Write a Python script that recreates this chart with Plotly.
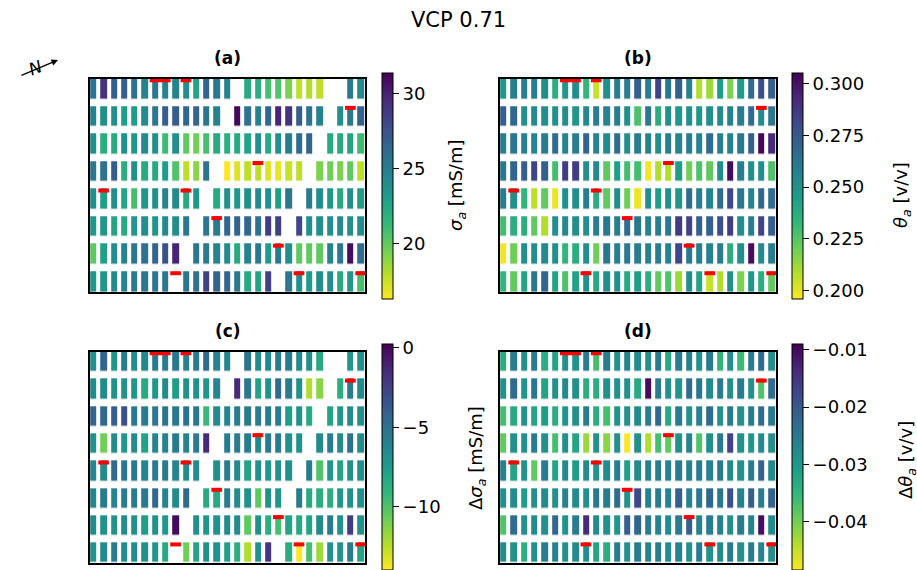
import plotly.graph_objects as go

# ---------------- data ----------------
cols = list(range(1, 28))
rows = list(range(1, 9))
N = None

# (a) apparent conductivity sigma_a [mS/m]
sigma_a = [
    [25.7, 29.1, 26.9, 26.9, 25.7, 24.6, 25.4, 24.6, 24.6, 23.9, 22.6, 26.6, 25.4, 24.6, N, 22.3, 22.0, 20.8, 20.5, 19.3, 17.8, 18.1, 17.8, N, N, 25.1, 24.2],
    [24.6, 23.9, 23.9, 23.1, 23.1, 24.2, 25.4, 26.9, 26.9, 26.4, 26.4, 25.4, 24.6, N, 31.1, 25.7, 24.6, 26.4, 29.9, 29.1, 26.9, 25.7, 24.6, N, 23.9, 25.4, 26.6],
    [23.9, 22.0, 22.3, 23.9, 23.5, 24.2, 23.9, 21.1, 23.9, 20.1, 19.6, 20.8, 22.3, 22.0, 22.3, 22.6, 23.9, 22.3, 23.9, 25.1, 26.1, 26.6, N, 22.3, 22.3, 22.6, 21.1],
    [25.4, 25.7, 26.9, 22.0, 23.9, 22.3, 22.3, 23.1, 20.5, 17.8, 19.0, 25.7, N, 16.3, 17.0, 17.8, 17.8, 17.0, 16.8, 17.5, 17.8, N, 19.3, 19.6, 19.3, 20.1, 17.8],
    [23.9, 22.9, 23.9, 22.6, 20.8, 23.5, 23.9, 24.6, 24.2, 22.3, 23.5, N, 22.3, 23.9, 23.5, 23.9, 24.2, 23.9, 23.1, 25.4, N, 25.1, 23.9, 23.5, 22.3, 23.9, 23.1],
    [23.5, 23.5, 22.6, 22.3, 23.5, 23.9, 23.5, 24.2, 23.9, 25.4, N, 25.4, 25.1, 26.4, 26.6, 26.4, 25.7, 28.7, 28.4, N, 28.1, 23.9, 23.9, 23.9, 24.2, 23.9, 23.9],
    [20.1, 22.9, 23.9, 24.6, 25.4, 25.7, 26.6, 27.6, 29.9, N, 25.4, 25.1, 24.6, 24.2, 22.3, 24.6, 25.4, 23.1, 25.1, 23.9, 20.1, 20.1, 20.1, 24.6, 25.4, 30.9, 26.1],
    [23.5, 23.5, 24.2, 24.6, 25.1, 25.4, 25.4, 25.4, N, 25.4, 25.7, 28.4, 26.6, 26.4, 25.4, 22.3, 22.6, 28.4, N, 25.4, 23.9, 23.1, 23.9, 23.9, 22.3, 23.5, 20.8],
]

# (b) water content theta_a [v/v]
theta_a = [
    [0.248, 0.259, 0.259, 0.259, 0.251, 0.237, 0.248, 0.251, 0.234, 0.205, 0.251, 0.259, 0.259, 0.272, 0.259, 0.283, 0.261, 0.272, 0.256, 0.209, 0.212, 0.245, 0.218, 0.245, 0.267, 0.278, 0.272],
    [0.272, 0.269, 0.251, 0.253, 0.251, 0.251, 0.251, 0.248, 0.254, 0.259, 0.256, 0.259, 0.251, 0.227, 0.261, 0.237, 0.251, 0.248, 0.251, 0.248, 0.251, 0.253, 0.256, 0.259, 0.267, 0.253, 0.261],
    [0.259, 0.261, 0.259, 0.256, 0.259, 0.267, 0.256, 0.259, 0.270, 0.256, 0.253, 0.267, 0.251, 0.259, 0.256, 0.251, 0.259, 0.256, 0.259, 0.256, 0.267, 0.256, 0.256, 0.261, 0.272, 0.303, 0.292],
    [0.261, 0.270, 0.272, 0.283, 0.272, 0.229, 0.285, 0.285, 0.251, 0.253, 0.223, 0.245, 0.229, 0.229, 0.198, 0.209, 0.209, 0.245, 0.220, 0.227, 0.223, 0.251, 0.302, 0.259, 0.251, 0.251, 0.227],
    [0.259, 0.251, 0.234, 0.207, 0.223, 0.199, 0.251, 0.251, 0.259, 0.237, 0.223, 0.251, 0.220, 0.199, 0.251, 0.245, 0.251, 0.248, 0.267, 0.259, 0.256, 0.267, 0.281, 0.261, 0.256, 0.269, 0.267],
    [0.229, 0.237, 0.237, 0.223, 0.209, 0.251, 0.253, 0.251, 0.251, 0.259, 0.261, 0.259, 0.267, 0.261, 0.256, 0.259, 0.261, 0.285, 0.283, 0.272, 0.272, 0.278, 0.285, 0.251, 0.259, 0.283, 0.272],
    [0.198, 0.220, 0.251, 0.251, 0.253, 0.251, 0.234, 0.237, 0.251, 0.220, 0.261, 0.259, 0.261, 0.259, 0.256, 0.259, 0.256, 0.281, 0.261, 0.259, 0.256, 0.259, 0.237, 0.251, 0.301, 0.253, 0.259],
    [0.234, 0.223, 0.242, 0.261, 0.270, 0.242, 0.227, 0.242, 0.251, 0.240, 0.251, 0.251, 0.240, 0.245, 0.237, 0.223, 0.227, 0.212, 0.251, 0.242, 0.205, 0.209, 0.251, 0.218, 0.248, 0.237, 0.223],
]

# (c) change in sigma_a [mS/m]
dsigma_a = [
    [-6.9, -4.3, -7.2, -5.7, -6.6, -6.4, -5.7, -5.7, -5.5, -6.2, -5.7, -4.7, -6.2, -6.2, N, -5.2, -6.6, -6.4, -5.7, -5.7, -6.6, -6.9, -8.3, N, N, -7.2, -6.9],
    [-6.6, -6.6, -6.9, -6.9, -7.2, -8.3, -7.2, -6.6, -7.6, -6.9, -6.9, -7.2, -6.2, N, -1.5, -5.5, -7.9, -6.9, -4.7, -5.7, -6.9, -12.3, -11.4, N, -8.6, -5.7, -6.6],
    [-4.3, -4.5, -4.0, -3.3, -5.5, -5.7, -5.5, -5.2, -5.5, -5.2, -5.5, -9.4, -6.6, -6.2, -5.7, -5.7, -5.7, -5.7, -5.7, -7.6, -6.9, -8.3, N, -7.9, -7.2, -6.6, -6.9],
    [-6.9, -10.9, -6.6, -7.2, -6.6, -7.9, -6.2, -6.2, -5.7, -6.2, -5.7, -1.5, N, -5.7, -5.7, -5.7, -6.6, -5.7, -5.7, -6.9, -6.9, N, -6.6, -5.7, -6.6, -5.2, -6.6],
    [-6.2, -6.6, -4.7, -5.5, -5.5, -6.2, -5.7, -5.7, -6.2, -6.6, -6.6, N, -6.9, -5.7, -6.6, -7.9, -6.9, -7.2, -6.9, -6.9, N, -5.7, -10.0, -7.2, -7.9, -6.9, -6.9],
    [-6.2, -5.7, -6.2, -5.7, -5.7, -5.5, -4.5, -6.2, -6.6, -4.7, N, -8.3, -8.3, -5.7, -6.6, -6.9, -10.4, -6.9, -7.2, N, -5.7, -8.3, -8.6, -8.6, -7.2, -6.9, -6.9],
    [-6.6, -6.9, -6.9, -6.6, -6.9, -7.6, -6.9, -7.2, -0.1, N, -6.9, -7.2, -6.9, -6.6, -6.6, -10.4, -6.9, -8.6, -9.7, -8.0, -8.3, -8.0, -6.6, -5.7, -6.9, -2.3, -6.9],
    [-6.9, -6.6, -5.7, -6.6, -6.6, -6.9, -7.2, -8.3, N, -10.9, -8.0, -6.9, -6.9, -7.6, -8.6, -12.3, -6.9, -1.9, N, -8.6, -14.0, -9.7, -11.9, -6.9, -6.9, -5.7, -8.0],
]

# (d) change in theta_a [v/v]
dtheta_a = [
    [-0.0334, -0.0255, -0.0287, -0.0255, -0.0334, -0.0319, -0.0287, -0.0295, -0.0255, -0.0366, -0.0255, -0.0287, -0.0267, -0.0279, -0.0287, -0.0255, -0.0326, -0.0255, -0.0267, -0.0287, -0.0255, -0.0346, -0.0287, -0.0358, -0.0255, -0.0228, -0.0287],
    [-0.0287, -0.0228, -0.0295, -0.0248, -0.0319, -0.0287, -0.0279, -0.0287, -0.0334, -0.0334, -0.0287, -0.0287, -0.0287, -0.0326, -0.0102, -0.0255, -0.0287, -0.0295, -0.0228, -0.0248, -0.0279, -0.0255, -0.0287, -0.0255, -0.0287, -0.0374, -0.0228],
    [-0.0366, -0.0326, -0.0287, -0.0319, -0.0307, -0.0334, -0.0295, -0.0287, -0.0255, -0.0334, -0.0366, -0.0287, -0.0287, -0.0279, -0.0255, -0.0220, -0.0326, -0.0255, -0.0287, -0.0267, -0.0228, -0.0287, -0.0255, -0.0287, -0.0255, -0.0228, -0.0255],
    [-0.0386, -0.0287, -0.0287, -0.0255, -0.0287, -0.0366, -0.0287, -0.0319, -0.0425, -0.0287, -0.0413, -0.0287, -0.0484, -0.0287, -0.0437, -0.0366, -0.0386, -0.0287, -0.0267, -0.0374, -0.0287, -0.0255, -0.0169, -0.0287, -0.0295, -0.0279, -0.0287],
    [-0.0267, -0.0319, -0.0287, -0.0386, -0.0255, -0.0319, -0.0279, -0.0307, -0.0279, -0.0295, -0.0279, -0.0255, -0.0307, -0.0279, -0.0267, -0.0255, -0.0267, -0.0255, -0.0267, -0.0255, -0.0267, -0.0255, -0.0279, -0.0287, -0.0255, -0.0216, -0.0279],
    [-0.0287, -0.0279, -0.0307, -0.0287, -0.0279, -0.0287, -0.0267, -0.0279, -0.0287, -0.0248, -0.0255, -0.0228, -0.0287, -0.0177, -0.0267, -0.0255, -0.0267, -0.0208, -0.0267, -0.0248, -0.0220, -0.0248, -0.0189, -0.0267, -0.0208, -0.0255, -0.0216],
    [-0.0374, -0.0228, -0.0287, -0.0279, -0.0287, -0.0220, -0.0295, -0.0255, -0.0137, -0.0279, -0.0287, -0.0295, -0.0208, -0.0220, -0.0255, -0.0267, -0.0279, -0.0255, -0.0208, -0.0267, -0.0255, -0.0267, -0.0287, -0.0255, -0.0267, -0.0106, -0.0279],
    [-0.0279, -0.0287, -0.0334, -0.0287, -0.0255, -0.0267, -0.0287, -0.0279, -0.0287, -0.0319, -0.0334, -0.0255, -0.0287, -0.0255, -0.0267, -0.0255, -0.0279, -0.0267, -0.0287, -0.0255, -0.0287, -0.0279, -0.0255, -0.0287, -0.0255, -0.0267, -0.0287],
]

# sensor (red marker) positions, 1-based row / column
marker_rows = [1, 1, 1, 2, 4, 5, 5, 6, 7, 8, 8, 8]
marker_cols = [7, 8, 10, 26, 17, 2, 10, 13, 19, 9, 21, 27]

panel_labels = ["(a)", "(b)", "(c)", "(d)"]
cbar_titles = ["<i>σ<sub>a</sub></i> [mS/m]", "<i>θ<sub>a</sub></i> [v/v]",
               "Δ<i>σ<sub>a</sub></i> [mS/m]", "Δ<i>θ<sub>a</sub></i> [v/v]"]
z_ranges = [(16.3, 31.4), (0.196, 0.305), (-14.0, 0.25), (-0.0484, -0.009)]
cbar_tickvals = [[20, 25, 30], [0.2, 0.225, 0.25, 0.275, 0.3],
                 [-10, -5, 0], [-0.04, -0.03, -0.02, -0.01]]
cbar_ticktext = [["20", "25", "30"], ["0.200", "0.225", "0.250", "0.275", "0.300"],
                 ["−10", "−5", "0"], ["−0.04", "−0.03", "−0.02", "−0.01"]]
title_text = "VCP 0.71"

# ---------------- layout geometry (pixels) ----------------
W, H = 917, 570
FONT = "DejaVu Sans"


def fx(p):
    return p / W


def fy(p):
    return 1 - p / H


boxes = [  # x0, x1, ytop, ybottom
    (90, 365, 79, 292),
    (500, 776, 79, 292),
    (90, 365, 352, 563),
    (500, 776, 352, 563),
]
cbar_pos = [  # x left, y top, y bottom
    (382, 73, 299),
    (792, 73, 299),
    (382, 344, 570),
    (792, 344, 570),
]
cbar_title_pos = [(457, 186), (902, 195), (477, 458), (907, 460)]

datasets = [sigma_a, theta_a, dsigma_a, dtheta_a]

fig = go.Figure()

# red marker segments
mx, my = [], []
for r, c in zip(marker_rows, marker_cols):
    mx += [c - 0.52, c + 0.52, None]
    my += [r - 0.317, r - 0.317, None]

for i, z in enumerate(datasets):
    xa = "x" if i == 0 else f"x{i+1}"
    ya = "y" if i == 0 else f"y{i+1}"
    cx, cy0, cy1 = cbar_pos[i]
    fig.add_trace(go.Heatmap(
        x=cols, y=rows, z=z,
        colorscale="Viridis", reversescale=True,
        zmin=z_ranges[i][0], zmax=z_ranges[i][1],
        xgap=4, ygap=7.5,
        hoverinfo="skip",
        xaxis=xa, yaxis=ya,
        colorbar=dict(
            x=fx(cx), xanchor="left", xpad=0,
            y=fy((cy0 + cy1) / 2), yanchor="middle", ypad=0,
            len=cy1 - cy0, lenmode="pixels",
            thickness=11, thicknessmode="pixels",
            outlinewidth=1, outlinecolor="black",
            tickmode="array", tickvals=cbar_tickvals[i], ticktext=cbar_ticktext[i],
            ticks="outside", ticklen=6, tickwidth=1, tickcolor="black",
            tickfont=dict(family=FONT, size=18, color="black"),
        ),
    ))
    fig.add_trace(go.Scatter(
        x=mx, y=my, mode="lines",
        line=dict(color="red", width=4),
        hoverinfo="skip", showlegend=False,
        xaxis=xa, yaxis=ya,
    ))

axis_common = dict(showgrid=False, zeroline=False, showticklabels=False, ticks="",
                   showline=True, mirror=True, linecolor="black", linewidth=1.5)
layout_axes = {}
for i, (x0, x1, yt, yb) in enumerate(boxes):
    sx = "xaxis" if i == 0 else f"xaxis{i+1}"
    sy = "yaxis" if i == 0 else f"yaxis{i+1}"
    layout_axes[sx] = dict(domain=[fx(x0), fx(x1)], range=[0.68, 27.42],
                           anchor="y" if i == 0 else f"y{i+1}", **axis_common)
    layout_axes[sy] = dict(domain=[fy(yb), fy(yt)], range=[8.364, 0.636],
                           anchor="x" if i == 0 else f"x{i+1}", **axis_common)

annotations = []
annotations.append(dict(text=title_text, x=0.5, y=fy(20), xref="paper", yref="paper",
                        showarrow=False, xanchor="center", yanchor="middle",
                        font=dict(family=FONT, size=21, color="black")))
for i, (x0, x1, yt, yb) in enumerate(boxes):
    annotations.append(dict(text=f"<b>{panel_labels[i]}</b>", x=fx((x0 + x1) / 2), y=fy(yt - 21),
                            xref="paper", yref="paper", showarrow=False,
                            xanchor="center", yanchor="middle",
                            font=dict(family=FONT, size=17, color="black")))
    tx, ty = cbar_title_pos[i]
    annotations.append(dict(text=cbar_titles[i], x=fx(tx), y=fy(ty), xref="paper", yref="paper",
                            showarrow=False, textangle=-90, xanchor="center", yanchor="middle",
                            font=dict(family=FONT, size=18, color="black")))

# north arrow
annotations.append(dict(text="", x=fx(58), y=fy(60), xref="paper", yref="paper",
                        showarrow=True, ax=-38, ay=16, arrowhead=2, arrowsize=1,
                        arrowwidth=1.3, arrowcolor="black"))
annotations.append(dict(text="<i>N</i>", x=fx(35), y=fy(68), xref="paper", yref="paper",
                        showarrow=False, textangle=-22, xanchor="center", yanchor="middle",
                        font=dict(family=FONT, size=17, color="black")))

fig.update_layout(
    width=W, height=H, autosize=False,
    margin=dict(l=0, r=0, t=0, b=0),
    paper_bgcolor="white", plot_bgcolor="white",
    showlegend=False,
    annotations=annotations,
    **layout_axes,
)

fig.write_html("out.html", config={"displayModeBar": False},
               post_script="document.body.style.margin='0';")
